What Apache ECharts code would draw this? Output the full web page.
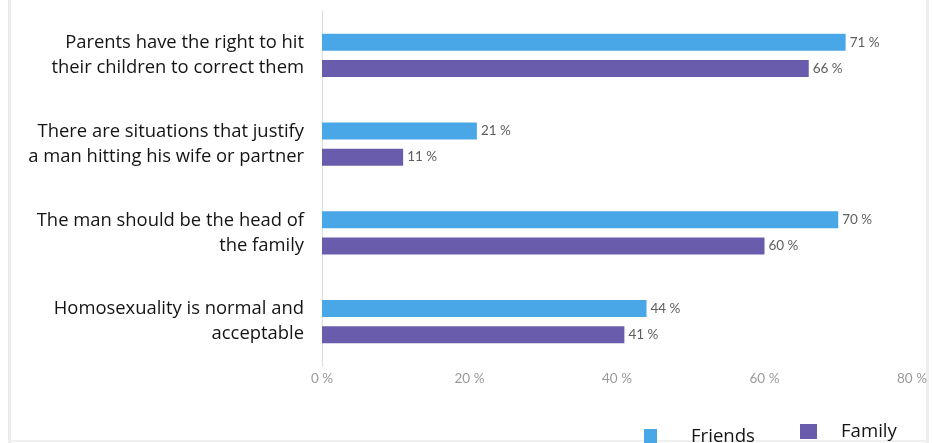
<!DOCTYPE html>
<html>
<head>
<meta charset="utf-8">
<script src="https://cdn.jsdelivr.net/npm/echarts@6/dist/echarts.min.js"></script>
<style>
  html, body { margin: 0; padding: 0; background: #ffffff; }
  #chart { width: 932px; height: 443px; }
</style>
</head>
<body>
<div id="chart"></div>
<script>
// Survey statements, top to bottom
const categories = [
  'Parents have the right to hit\ntheir children to correct them',
  'There are situations that justify\na man hitting his wife or partner',
  'The man should be the head of\nthe family',
  'Homosexuality is normal and\nacceptable'
];
// Share agreeing (%)
const friendsValues = [71, 21, 70, 44];
const familyValues = [66, 11, 60, 41];
// Horizontal axis ticks (%)
const tickValues = [0, 20, 40, 60, 80];

const FRIENDS_COLOR = '#49a6e7';
const FAMILY_COLOR = '#6a5cac';
const TEXT_FONT = '"Open Sans", sans-serif';
const NUM_FONT = 'Lato, sans-serif';

const chart = echarts.init(document.getElementById('chart'), null, { renderer: 'canvas' });

const valueLabel = {
  show: true,
  position: 'right',
  distance: 4,
  formatter: '{c} %',
  color: '#5e5e5e',
  fontFamily: NUM_FONT,
  fontSize: 13.5
};

chart.setOption({
  animation: false,
  backgroundColor: '#ffffff',
  grid: { left: 322, right: 20, top: 11, bottom: 77, containLabel: false },
  xAxis: {
    type: 'value',
    min: tickValues[0],
    max: tickValues[tickValues.length - 1],
    interval: tickValues[1] - tickValues[0],
    axisLine: { show: false },
    axisTick: { show: false },
    splitLine: { show: false },
    axisLabel: {
      formatter: '{value} %',
      color: '#9a9a9a',
      fontFamily: NUM_FONT,
      fontSize: 13.5,
      margin: 6
    }
  },
  yAxis: {
    type: 'category',
    inverse: true,
    data: categories,
    axisLine: { show: true, lineStyle: { color: '#dcdcdc', width: 1 } },
    axisTick: { show: false },
    axisLabel: {
      color: '#141414',
      fontFamily: TEXT_FONT,
      fontSize: 18.4,
      lineHeight: 25,
      align: 'right',
      margin: 18
    }
  },
  legend: [
    {
      data: ['Friends'],
      left: 644,
      top: 427,
      padding: 0,
      itemWidth: 13,
      itemHeight: 15,
      icon: 'rect',
      selectedMode: false,
      textStyle: { color: '#141414', fontFamily: TEXT_FONT, fontSize: 18.6, padding: [0, 0, 0, 29] }
    },
    {
      data: ['Family'],
      left: 800,
      top: 422,
      padding: 0,
      itemWidth: 17,
      itemHeight: 15,
      icon: 'rect',
      selectedMode: false,
      textStyle: { color: '#141414', fontFamily: TEXT_FONT, fontSize: 18.6, padding: [0, 0, 8, 19] }
    }
  ],
  series: [
    {
      name: 'Friends',
      type: 'bar',
      data: friendsValues,
      barWidth: 17,
      barGap: '53%',
      itemStyle: { color: FRIENDS_COLOR },
      label: valueLabel
    },
    {
      name: 'Family',
      type: 'bar',
      data: familyValues,
      barWidth: 17,
      itemStyle: { color: FAMILY_COLOR },
      label: valueLabel
    }
  ],
  graphic: [
    { type: 'rect', left: 8, top: 0, shape: { width: 3, height: 443 }, style: { fill: '#ebebeb' }, silent: true },
    { type: 'rect', left: 926, top: 0, shape: { width: 3, height: 443 }, style: { fill: '#eeeeee' }, silent: true },
    { type: 'rect', left: 8, top: 440, shape: { width: 921, height: 2 }, style: { fill: '#f0f0f0' }, silent: true }
  ]
});
</script>
</body>
</html>
